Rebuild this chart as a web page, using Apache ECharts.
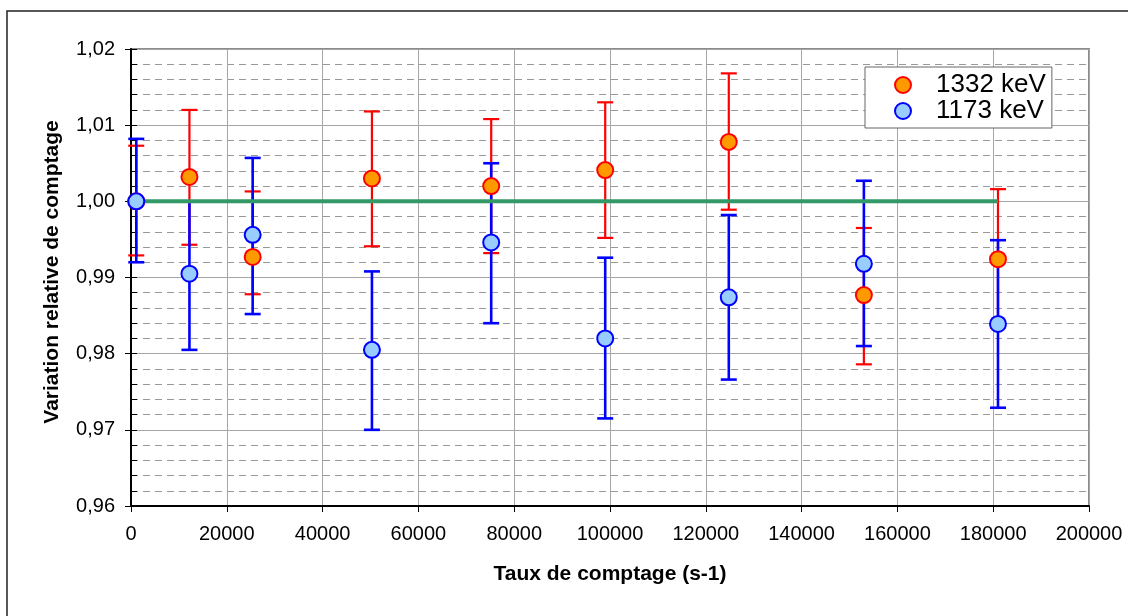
<!DOCTYPE html>
<html>
<head>
<meta charset="utf-8">
<script src="https://cdn.jsdelivr.net/npm/echarts@6/dist/echarts.min.js"></script>
<style>
html,body{margin:0;padding:0;background:#fff;}
#chart{width:1128px;height:616px;}
</style>
</head>
<body>
<div id="chart"></div>
<script>
// ---- data ----
const countRates = [1100, 12200, 25400, 50300, 75200, 99000, 124800, 153000, 181000];
const red1332 = [1.0000, 1.0032, 0.9927, 1.0030, 1.0020, 1.0041, 1.0078, 0.9877, 0.9924];
const red1332Lo = [0.9929, 0.9943, 0.9878, 0.9941, 0.9932, 0.9952, 0.9989, 0.9786, 0.9834];
const red1332Hi = [1.0073, 1.0120, 1.0013, 1.0118, 1.0108, 1.0130, 1.0168, 0.9965, 1.0016];
const blue1173 = [1.0000, 0.9905, 0.9956, 0.9805, 0.9946, 0.9820, 0.9874, 0.9918, 0.9839];
const blue1173Lo = [0.9920, 0.9805, 0.9852, 0.9700, 0.9840, 0.9715, 0.9766, 0.9810, 0.9729];
const blue1173Hi = [1.0082, 1.0000, 1.0057, 0.9908, 1.0050, 0.9926, 0.9982, 1.0027, 0.9949];
const refX = [1100, 181000];
const refY = [1.0, 1.0];
const seriesNames = ['1332 keV', '1173 keV'];
const xTitle = 'Taux de comptage (s-1)';
const yTitle = 'Variation relative de comptage';

// ---- build ----
const FONT = '"Liberation Sans", Arial, sans-serif';
function zip2(a, b) { return a.map((v, i) => [v, b[i]]); }
function zip3(a, b, c) { return a.map((v, i) => [v, b[i], c[i]]); }

function errRender(color, lw) {
  return function (params, api) {
    const x = api.value(0), lo = api.value(1), hi = api.value(2);
    const t = api.coord([x, hi]), b = api.coord([x, lo]);
    const hw = 8;
    const st = { stroke: color, lineWidth: lw };
    return {
      type: 'group',
      children: [
        { type: 'line', shape: { x1: t[0], y1: t[1], x2: b[0], y2: b[1] }, style: st },
        { type: 'line', shape: { x1: t[0] - hw, y1: t[1], x2: t[0] + hw, y2: t[1] }, style: st },
        { type: 'line', shape: { x1: b[0] - hw, y1: b[1], x2: b[0] + hw, y2: b[1] }, style: st }
      ]
    };
  };
}

const chart = echarts.init(document.getElementById('chart'), null, { renderer: 'canvas' });
const yCommon = { type: 'value', min: 0.96, max: 1.02, interval: 0.01, position: 'left' };

chart.setOption({
  backgroundColor: '#fff',
  animation: false,
  textStyle: { fontFamily: FONT },
  graphic: [{
    type: 'rect', z: -10, silent: true,
    shape: { x: 7, y: 11, width: 1300, height: 800 },
    style: { fill: 'none', stroke: '#222', lineWidth: 1.5 }
  }],
  grid: {
    left: 131, right: 39, top: 49, bottom: 110,
    show: true, backgroundColor: '#fff', borderColor: '#8c8c8c', borderWidth: 2
  },
  legend: {
    orient: 'vertical', left: 865, top: 67,
    padding: [5, 6, 4, 29],
    itemGap: 0, itemWidth: 16, itemHeight: 16,
    backgroundColor: '#fff', borderColor: '#666', borderWidth: 1,
    textStyle: { fontFamily: FONT, fontSize: 26, color: '#000', lineHeight: 25, padding: [0, 0, 0, 20] },
    data: seriesNames
  },
  xAxis: {
    type: 'value', min: 0, max: 200000, interval: 20000,
    name: xTitle, nameLocation: 'middle', nameGap: 58,
    nameTextStyle: { fontFamily: FONT, fontSize: 21, fontWeight: 'bold', color: '#000' },
    axisLine: { show: true, lineStyle: { color: '#000', width: 2 } },
    axisTick: { show: true, length: 6, lineStyle: { color: '#000', width: 1 } },
    axisLabel: { fontFamily: FONT, fontSize: 20, color: '#000', margin: 18, formatter: v => String(v) },
    splitLine: { show: true, lineStyle: { color: '#a6a6a6', width: 1 } }
  },
  yAxis: [
    Object.assign({}, yCommon, {
      name: yTitle, nameLocation: 'middle', nameGap: 68, nameRotate: 90,
      nameTextStyle: { fontFamily: FONT, fontSize: 21, fontWeight: 'bold', color: '#000', padding: [0, 0, 0, 11] },
      axisLine: { show: true, lineStyle: { color: '#000', width: 2 } },
      axisTick: { show: true, length: 6, lineStyle: { color: '#000', width: 1 } },
      axisLabel: { fontFamily: FONT, fontSize: 20, color: '#000', margin: 16,
        formatter: v => v.toFixed(2).replace('.', ',') },
      splitLine: { show: true, lineStyle: { color: '#a6a6a6', width: 1 } },
      minorTick: { show: false },
      minorSplitLine: { show: true, lineStyle: { color: '#999', width: 1, type: [7, 5] } }
    }),
    Object.assign({}, yCommon, {
      axisLine: { show: false },
      axisLabel: { show: false },
      splitLine: { show: false },
      axisTick: { show: true, inside: true, length: 6, lineStyle: { color: '#000', width: 1 } },
      minorTick: { show: true, splitNumber: 5, length: 6, lineStyle: { color: '#000', width: 1 } }
    })
  ],
  series: [
    {
      type: 'custom', name: 'err1332', z: 2, yAxisIndex: 0,
      data: zip3(countRates, red1332Lo, red1332Hi),
      encode: { x: 0, y: [1, 2] },
      renderItem: errRender('#ff0000', 2.2), silent: true
    },
    {
      type: 'custom', name: 'err1173', z: 3, yAxisIndex: 0,
      data: zip3(countRates, blue1173Lo, blue1173Hi),
      encode: { x: 0, y: [1, 2] },
      renderItem: errRender('#0000ff', 2.6), silent: true
    },
    {
      type: 'line', name: 'ref', z: 4, yAxisIndex: 0,
      data: zip2(refX, refY), showSymbol: false, symbol: 'none',
      lineStyle: { color: '#339966', width: 4 }, silent: true
    },
    {
      type: 'scatter', name: seriesNames[0], z: 5, yAxisIndex: 0,
      data: zip2(countRates, red1332), symbol: 'circle', symbolSize: 16,
      itemStyle: { color: '#ff9900', borderColor: '#ff0000', borderWidth: 2, opacity: 1 }
    },
    {
      type: 'scatter', name: seriesNames[1], z: 6, yAxisIndex: 0,
      data: zip2(countRates, blue1173), symbol: 'circle', symbolSize: 16,
      itemStyle: { color: '#99ccff', borderColor: '#0000ff', borderWidth: 2, opacity: 1 }
    }
  ]
});
</script>
</body>
</html>
